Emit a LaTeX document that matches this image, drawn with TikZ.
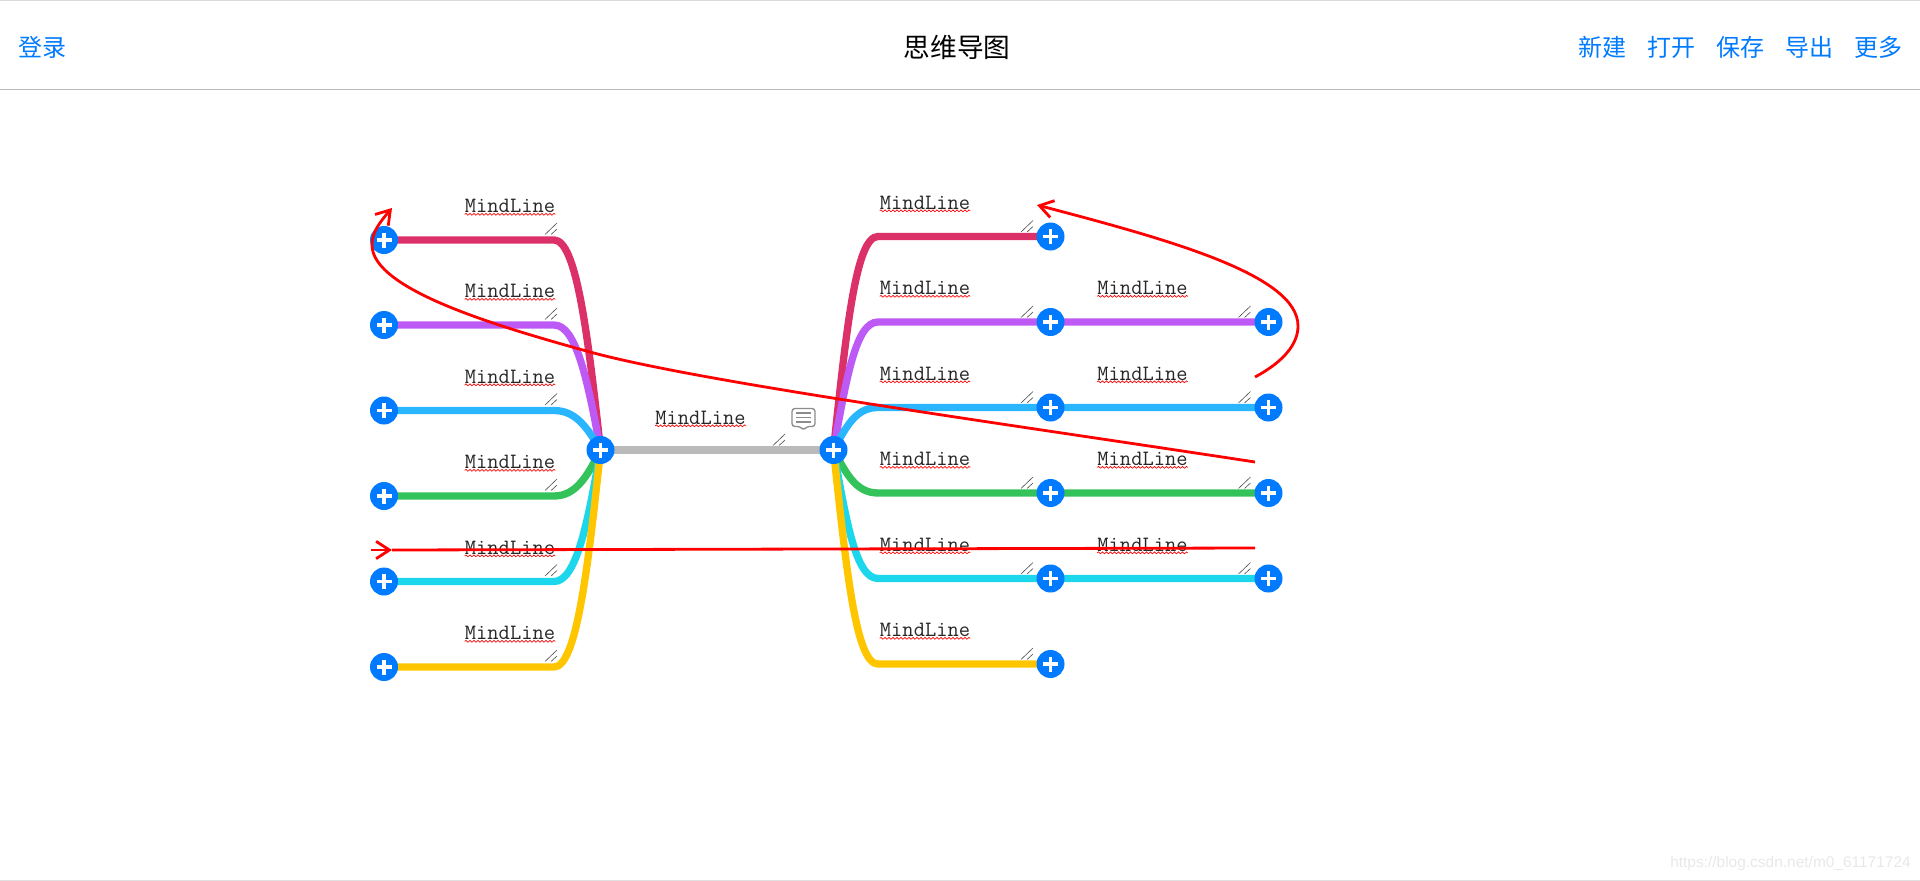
\documentclass[tikz,border=0pt]{standalone}
\usepackage{fontspec}
\newfontfamily\cjk{Noto Sans CJK SC}
\newfontfamily\markfont{Liberation Sans}
\usetikzlibrary{arrows.meta,backgrounds,decorations.pathmorphing}
\definecolor{addblue}{HTML}{007AFF}
\definecolor{lineA}{HTML}{DC3068}
\definecolor{lineB}{HTML}{BD5AF5}
\definecolor{lineC}{HTML}{29B6FF}
\definecolor{lineD}{HTML}{34C35A}
\definecolor{lineE}{HTML}{1CD6EC}
\definecolor{lineF}{HTML}{FFC600}
\tikzset{
  addbtn/.style={circle, fill=addblue, minimum size=21pt, inner sep=0pt,
    path picture={\draw[white, line width=2.8pt]
      (path picture bounding box.center) ++(-7.5,0) -- ++(15,0)
      (path picture bounding box.center) ++(0,-7.5) -- ++(0,15);}},
  squiggle/.style={red, line width=0.5pt, decorate, decoration={snake, amplitude=0.7pt, segment length=3pt}},
  mindtext/.style={font=\ttfamily\fontsize{16.4}{18}\selectfont, text=black!85, inner sep=0pt, anchor=south,
    append after command={([yshift=-1pt]\tikzlastnode.south west) edge[squiggle] ([yshift=-1pt]\tikzlastnode.south east)}},
  mindline/.style={line width=5.5pt},
  redpen/.style={red, line width=2.1pt},
  barb/.style={redpen, -{Straight Barb[length=10pt, width=13pt]}},
  barlink/.style={font=\cjk\fontsize{18}{20}\selectfont, text=addblue, inner sep=0pt},
  grip/.pic={\draw[black!70, line width=0.45pt] (-12,0) -- (0,-11.5) (-6,0) -- (0,-5.5);}
}
\begin{document}
\begin{tikzpicture}[x=0.75pt,y=-0.75pt]
\useasboundingbox (0,0) rectangle (1920,881);
% top bar
\draw[black!14, line width=0.9pt] (0,0.5) -- (1920,0.5);
\draw[black!27, line width=0.75pt] (0,90) -- (1920,90);
\node[barlink] (login) at (42,47) {登录};
\node[font=\cjk\fontsize{20}{22}\selectfont, inner sep=0pt] (title) at (957,47) {思维导图};
\node[barlink] (menuNew) at (1602,47) {新建};
\node[barlink] (menuOpen) at (1671.5,47) {打开};
\node[barlink] (menuSave) at (1740.5,47) {保存};
\node[barlink] (menuExport) at (1809.5,47) {导出};
\node[barlink] (menuMore) at (1878.5,47) {更多};
% hubs and add buttons
\node[addbtn] (hubL) at (600.5,450) {};
\node[addbtn] (hubR) at (833.5,450) {};
\node[addbtn] (leftA) at (384,240) {};
\node[addbtn] (leftB) at (384,325) {};
\node[addbtn] (leftC) at (384,410.5) {};
\node[addbtn] (leftD) at (384,496) {};
\node[addbtn] (leftE) at (384,581.5) {};
\node[addbtn] (leftF) at (384,667) {};
\node[addbtn] (rightA) at (1050.5,236.5) {};
\node[addbtn] (rightB) at (1050.5,322) {};
\node[addbtn] (rightC) at (1050.5,407.5) {};
\node[addbtn] (rightD) at (1050.5,493) {};
\node[addbtn] (rightE) at (1050.5,578.5) {};
\node[addbtn] (rightF) at (1050.5,664) {};
\node[addbtn] (farB) at (1268.5,322) {};
\node[addbtn] (farC) at (1268.5,407.5) {};
\node[addbtn] (farD) at (1268.5,493) {};
\node[addbtn] (farE) at (1268.5,578.5) {};
% corners of the lines
\coordinate (cornerLA) at (554,240);
\coordinate (cornerLB) at (554,325);
\coordinate (cornerLC) at (554,410.5);
\coordinate (cornerLD) at (554,496);
\coordinate (cornerLE) at (554,581.5);
\coordinate (cornerLF) at (554,667);
\coordinate (cornerRA) at (878,236.5);
\coordinate (cornerRB) at (878,322);
\coordinate (cornerRC) at (878,407.5);
\coordinate (cornerRD) at (878,493);
\coordinate (cornerRE) at (878,578.5);
\coordinate (cornerRF) at (878,664);
\begin{scope}[on background layer]
\draw[mindline, black!27] (hubL.center) -- (hubR.center);
\draw[mindline, lineA] (hubL.center) .. controls +(-13,-120) and +(22,0) .. (cornerLA) -- (leftA.center);
\draw[mindline, lineB] (hubL.center) .. controls +(-13,-71) and +(22,0) .. (cornerLB) -- (leftB.center);
\draw[mindline, lineC] (hubL.center) .. controls +(-13,-22) and +(22,0) .. (cornerLC) -- (leftC.center);
\draw[mindline, lineD] (hubL.center) .. controls +(-13,26) and +(22,0) .. (cornerLD) -- (leftD.center);
\draw[mindline, lineE] (hubL.center) .. controls +(-13,75) and +(22,0) .. (cornerLE) -- (leftE.center);
\draw[mindline, lineF] (hubL.center) .. controls +(-13,124) and +(22,0) .. (cornerLF) -- (leftF.center);
\draw[mindline, lineA] (hubR.center) .. controls +(13,-122) and +(-22,0) .. (cornerRA) -- (rightA.center);
\draw[mindline, lineB] (hubR.center) .. controls +(13,-73) and +(-22,0) .. (cornerRB) -- (rightB.center) -- (farB.center);
\draw[mindline, lineC] (hubR.center) .. controls +(13,-24) and +(-22,0) .. (cornerRC) -- (rightC.center) -- (farC.center);
\draw[mindline, lineD] (hubR.center) .. controls +(13,24) and +(-22,0) .. (cornerRD) -- (rightD.center) -- (farD.center);
\draw[mindline, lineE] (hubR.center) .. controls +(13,73) and +(-22,0) .. (cornerRE) -- (rightE.center) -- (farE.center);
\draw[mindline, lineF] (hubR.center) .. controls +(13,122) and +(-22,0) .. (cornerRF) -- (rightF.center);
\end{scope}
% grips
\pic at (785,445.5) {grip};
\pic at (557,234.5) {grip};
\pic at (557,319.5) {grip};
\pic at (557,405) {grip};
\pic at (557,490.5) {grip};
\pic at (557,576) {grip};
\pic at (557,661.5) {grip};
\pic at (1033,232) {grip};
\pic at (1033,317.5) {grip};
\pic at (1033,403) {grip};
\pic at (1033,488.5) {grip};
\pic at (1033,574) {grip};
\pic at (1033,659.5) {grip};
\pic at (1250.5,317.5) {grip};
\pic at (1250.5,403) {grip};
\pic at (1250.5,488.5) {grip};
\pic at (1250.5,574) {grip};
% texts
\node[mindtext] (textHub) at (700.5,424.5) {MindLine};
\node[mindtext] (textLA) at (510,213) {MindLine};
\node[mindtext] (textLB) at (510,298) {MindLine};
\node[mindtext] (textLC) at (510,383.5) {MindLine};
\node[mindtext] (textLD) at (510,469) {MindLine};
\node[mindtext] (textLE) at (510,554.5) {MindLine};
\node[mindtext] (textLF) at (510,640) {MindLine};
\node[mindtext] (textRA) at (925,209.5) {MindLine};
\node[mindtext] (textRB) at (925,295) {MindLine};
\node[mindtext] (textRC) at (925,380.5) {MindLine};
\node[mindtext] (textRD) at (925,466) {MindLine};
\node[mindtext] (textRE) at (925,551.5) {MindLine};
\node[mindtext] (textRF) at (925,637) {MindLine};
\node[mindtext] (textFB) at (1142.5,295) {MindLine};
\node[mindtext] (textFC) at (1142.5,380.5) {MindLine};
\node[mindtext] (textFD) at (1142.5,466) {MindLine};
\node[mindtext] (textFE) at (1142.5,551.5) {MindLine};
% comment icon
\draw[black!45, line width=1pt, fill=white, rounded corners=2.2pt, line join=round]
  (792,408.5) -- (815,408.5) -- (815,426.5) -- (806.5,426.5) -- (803.5,430.5) -- (800.5,426.5) -- (792,426.5) -- cycle;
\draw[black!45, line width=0.9pt] (796,413) -- (811,413) (796,417.5) -- (811,417.5) (796,422) -- (811,422);
% red pen
\coordinate (penAstart) at (1255,377);
\coordinate (penAtip) at (1037,205);
\coordinate (penBstart) at (1255,462);
\coordinate (penBtip) at (392,208);
\coordinate (penCstart) at (1255,548);
\coordinate (penCtip) at (392,550);
\coordinate (penCtail) at (371,550);
\draw[barb] (penAstart) .. controls (1285,361) and (1298,343) .. (1298,326) .. controls (1298,275) and (1170,240) .. (penAtip);
\draw[barb] (penBstart) .. controls (1000,423) and (700,382) .. (590,352) .. controls (500,327) and (372,290) .. (372,245) .. controls (372,232) and (380,222) .. (penBtip);
\draw[redpen] (penCstart) -- (penCtip);
\draw[barb] (penCtail) -- (penCtip);
% watermark and page edge
\node[font=\markfont\fontsize{11.6}{14}\selectfont, text=black!9, anchor=east, inner sep=0pt] (watermark) at (1911,863) {https://blog.csdn.net/m0\_61171724};
\draw[black!12, line width=0.8pt] (0,880.5) -- (1920,880.5);
\end{tikzpicture}
\end{document}
